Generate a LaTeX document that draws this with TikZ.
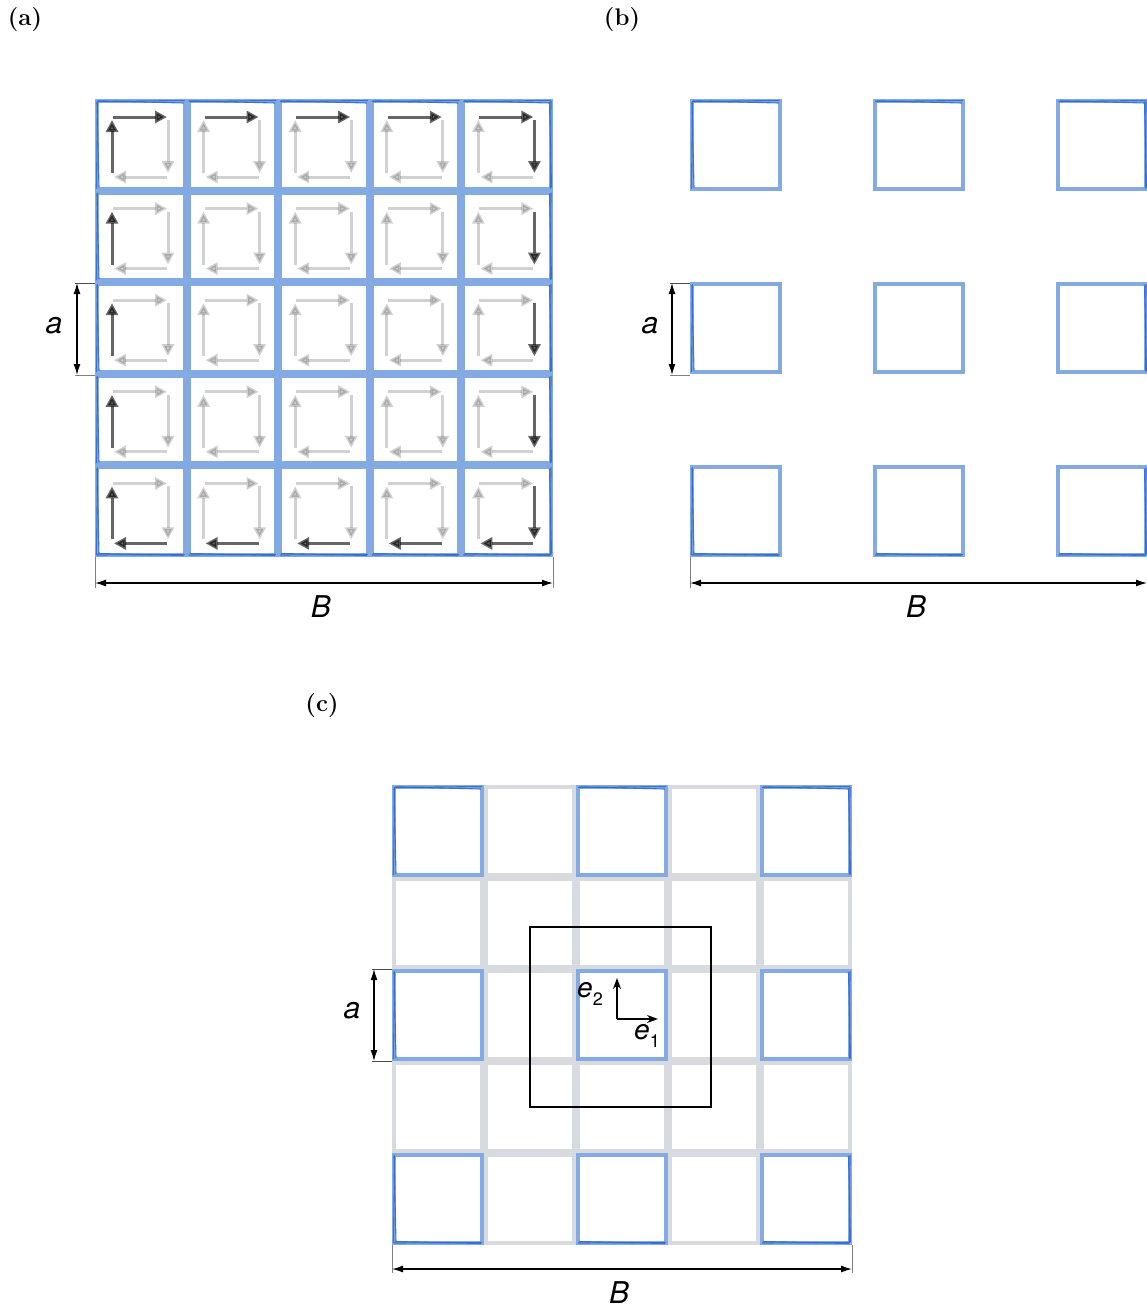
\documentclass[tikz,border=0pt]{standalone}
\usepackage{fontspec}
\newfontfamily\hv{TeX Gyre Heros}
\usetikzlibrary{arrows.meta}
\definecolor{lb}{RGB}{132,170,228}
\definecolor{db}{RGB}{45,105,210}
\definecolor{gr}{RGB}{215,218,223}
\tikzset{
  lbsq/.style={draw=lb, line width=4pt},
  dbl/.style={draw=db, line width=1.1pt, opacity=.85},
  grsq/.style={draw=gr, line width=4pt},
  circarr/.style={draw=black, opacity=#1, line width=3pt, -{Triangle[length=12pt,width=12pt]}},
  dim/.style={line width=1.3pt, {Latex[length=11pt,width=7pt]}-{Latex[length=11pt,width=7pt]}},
  ticker/.style={line width=0.8pt, draw=black!70},
  lbl/.style={font=\fontsize{30}{36}\selectfont\hv\itshape},
  elbl/.style={font=\fontsize{28}{32}\selectfont\hv\itshape},
  plbl/.style={font=\fontsize{24}{28}\selectfont\bfseries},
}
% blue square: x y s L T R B
\newcommand\bsq[7]{%
  \draw[lbsq] (#1+2,#2+2) rectangle (#1+#3-2,#2+#3-2);
  \ifnum#4=1 \draw[dbl] (#1+2.5,#2+2) -- (#1+1.5,#2+#3-2); \draw[dbl] (#1+2,#2+3) -- (#1+4,#2+#3-3);\fi
  \ifnum#5=1 \draw[dbl] (#1+2,#2+2.5) -- (#1+#3-2,#2+1.5); \draw[dbl] (#1+3,#2+1.8) -- (#1+#3-3,#2+4);\fi
  \ifnum#6=1 \draw[dbl] (#1+#3-2,#2+2) -- (#1+#3-2.5,#2+#3-2); \draw[dbl] (#1+#3-3.5,#2+3) -- (#1+#3-1.5,#2+#3-3);\fi
  \ifnum#7=1 \draw[dbl] (#1+2,#2+#3-2) -- (#1+#3-2,#2+#3-2.5); \draw[dbl] (#1+3,#2+#3-3.5) -- (#1+#3-3,#2+#3-1.5);\fi
}
\newcommand\grsq[3]{%
  \draw[grsq] (#1+2,#2+2) rectangle (#1+#3-2,#2+#3-2);
}
\begin{document}
\begin{tikzpicture}[x=1pt,y=-1pt]
\useasboundingbox (0,0) rectangle (1147,1310);

% ---------------- panel (a)
\node[plbl] (la) at (25,20) {(a)};
\foreach \i in {0,...,4} \foreach \j in {0,...,4} {
  \pgfmathsetmacro\x{95+\i*91.6}
  \pgfmathsetmacro\y{99+\j*91.6}
  \pgfmathtruncatemacro\L{\i==0}
  \pgfmathtruncatemacro\T{\j==0}
  \pgfmathtruncatemacro\R{\i==4}
  \pgfmathtruncatemacro\B{\j==4}
  \bsq{\x}{\y}{91.6}{\L}{\T}{\R}{\B}
  \pgfmathsetmacro\oT{\j==0 ? 0.6 : 0.18}
  \pgfmathsetmacro\oR{\i==4 ? 0.6 : 0.18}
  \pgfmathsetmacro\oB{\j==4 ? 0.6 : 0.18}
  \pgfmathsetmacro\oL{\i==0 ? 0.6 : 0.18}
  \draw[circarr=\oT] (\x+18,\y+18) -- (\x+72,\y+18);
  \draw[circarr=\oR] (\x+73,\y+21) -- (\x+73,\y+74);
  \draw[circarr=\oB] (\x+72,\y+78) -- (\x+19,\y+78);
  \draw[circarr=\oL] (\x+17,\y+74) -- (\x+17,\y+21);
}
\coordinate (aa1) at (77,283); \coordinate (aa2) at (77,375);
\draw[ticker] (75,283) -- (95,283);
\draw[ticker,draw=black!50] (75,375) -- (95,375);
\draw[dim] (aa1) -- (aa2);
\node[lbl] (alab) at (54,326) {a};
\coordinate (ab1) at (95,583); \coordinate (ab2) at (553,583);
\draw[ticker,draw=black!50] (95,557) -- (95,588);
\draw[ticker,draw=black!50] (553,557) -- (553,588);
\draw[dim] (ab1) -- (ab2);
\node[lbl] (blab) at (321,607) {B};

% ---------------- panel (b)
\node[plbl] (lb) at (622,20) {(b)};
\foreach \i in {0,2,4} \foreach \j in {0,2,4} {
  \pgfmathsetmacro\x{690+\i*91.6}
  \pgfmathsetmacro\y{99+\j*91.6}
  \pgfmathtruncatemacro\L{\i==0}
  \pgfmathtruncatemacro\T{\j==0}
  \pgfmathtruncatemacro\R{\i==4}
  \pgfmathtruncatemacro\B{\j==4}
  \bsq{\x}{\y}{91.6}{\L}{\T}{\R}{\B}
}
\coordinate (ba1) at (672,283); \coordinate (ba2) at (672,375);
\draw[ticker] (670,283) -- (690,283);
\draw[ticker,draw=black!50] (670,375) -- (690,375);
\draw[dim] (ba1) -- (ba2);
\node[lbl] (balab) at (650,326) {a};
\coordinate (bb1) at (690,583); \coordinate (bb2) at (1147,583);
\draw[ticker,draw=black!50] (690,557) -- (690,588);
\draw[dim] (bb1) -- (bb2);
\node[lbl] (bblab) at (916,607) {B};

% ---------------- panel (c)
\node[plbl] (lc) at (322,706) {(c)};
\foreach \i in {0,...,4} \foreach \j in {0,...,4} {
  \pgfmathsetmacro\x{392+\i*92}
  \pgfmathsetmacro\y{785+\j*92}
  \grsq{\x}{\y}{92}
}
\foreach \i in {0,2,4} \foreach \j in {0,2,4} {
  \pgfmathsetmacro\x{392+\i*92}
  \pgfmathsetmacro\y{785+\j*92}
  \pgfmathtruncatemacro\L{\i==0}
  \pgfmathtruncatemacro\T{\j==0}
  \pgfmathtruncatemacro\R{\i==4}
  \pgfmathtruncatemacro\B{\j==4}
  \bsq{\x}{\y}{92}{\L}{\T}{\R}{\B}
}
\draw[line width=1.5pt] (530,927) rectangle (711,1107);
\coordinate (o) at (617,1019);
\coordinate (e2) at (617,978);
\coordinate (e1) at (658,1019);
\draw[line width=1.5pt,-{Stealth[length=11pt,width=8pt]}] (o) -- (e2);
\draw[line width=1.5pt,-{Stealth[length=11pt,width=8pt]}] (o) -- (e1);
\node[elbl] (e2lab) at (590,994) {e\raisebox{-0.3em}{\fontsize{18}{20}\selectfont\upshape 2}};
\node[elbl] (e1lab) at (647,1036) {e\raisebox{-0.3em}{\fontsize{18}{20}\selectfont\upshape 1}};
\coordinate (ca1) at (374,969); \coordinate (ca2) at (374,1061);
\draw[ticker] (372,969) -- (392,969);
\draw[ticker] (372,1061) -- (392,1061);
\draw[dim] (ca1) -- (ca2);
\node[lbl] (calab) at (352,1011) {a};
\coordinate (cb1) at (392,1269); \coordinate (cb2) at (852,1269);
\draw[ticker,draw=black!50] (392,1245) -- (392,1273);
\draw[ticker,draw=black!50] (852,1245) -- (852,1273);
\draw[dim] (cb1) -- (cb2);
\node[lbl] (cblab) at (619,1293) {B};
\end{tikzpicture}
\end{document}
